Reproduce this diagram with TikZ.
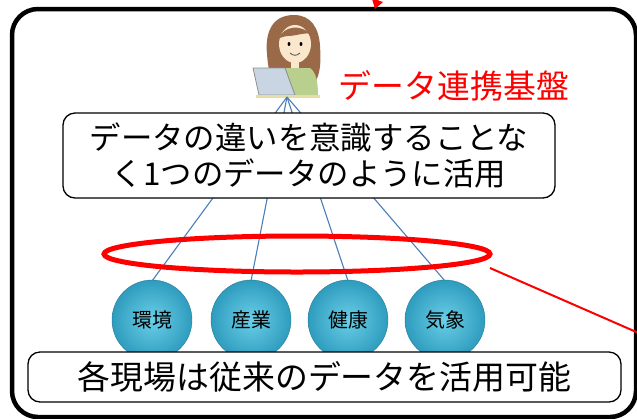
\documentclass[tikz,border=0pt]{standalone}
\usepackage{fontspec}
\setmainfont{Noto Sans CJK JP}
\usetikzlibrary{arrows.meta,shapes.geometric}
\definecolor{linkblue}{HTML}{4A7EBB}
\definecolor{ballin}{HTML}{6ACFE8}
\definecolor{ballout}{HTML}{2F9CBE}
\definecolor{hair}{HTML}{9A6A48}
\definecolor{skin}{HTML}{FBE7CC}
\definecolor{shirt}{HTML}{B9CF8E}
\definecolor{screen}{HTML}{C9D5E2}
\definecolor{desk}{HTML}{E6DCA6}
\tikzset{
  panel/.style={draw=black, line width=1.3bp, rounded corners=12bp, fill=white,
                align=center, inner sep=0pt},
  domainball/.style={circle, minimum size=80bp, inner sep=0pt, shading=radial,
                 inner color=ballin, outer color=ballout,
                 draw=ballout!80!black, line width=0.4bp,
                 font=\fontsize{20}{20}\selectfont},
  link/.style={draw=linkblue, line width=1.1bp},
  callout/.style={draw=red, line width=2bp},
}
\begin{document}
\begin{tikzpicture}[x=1bp,y=-1bp]
\useasboundingbox (0,0) rectangle (637,418);
\begin{scope}
\clip (0,0) rectangle (637,418);
% outer frame
\draw[line width=4.5bp, rounded corners=26bp] (12,9) rectangle (636,417);
% incoming arrow from above
\coordinate (arrowstart) at (384,-22);
\coordinate (arrowend) at (375,9);
\draw[red, line width=2bp, -{Triangle[width=11bp,length=9bp]}] (arrowstart) -- (arrowend);

% operator at the laptop
\coordinate (apex) at (287,97);
\fill[hair] (294,15) .. controls (271,15) and (265,34) .. (267,54)
  .. controls (268,68) and (270,80) .. (278,84) -- (314,84)
  .. controls (321,74) and (321,60) .. (320,46)
  .. controls (319,28) and (311,15) .. (294,15) -- cycle;
\fill[shirt] (282,68) -- (310,68) .. controls (316,72) and (318,82) .. (318,95) -- (282,95) -- cycle;
\fill[skin] (295,44) ellipse (16 and 19);
\fill[hair] (279,38) .. controls (284,26) and (300,24) .. (311,34)
  .. controls (305,32) and (296,36) .. (288,36) .. controls (284,36) and (281,38) .. (279,38) -- cycle;
\fill[black] (289,44) ellipse (1.4 and 2);
\fill[black] (301,44) ellipse (1.4 and 2);
\draw[black!70, line width=0.8bp] (290,53) .. controls (293,56) and (297,56) .. (300,53);
\fill[skin] (291,61) rectangle (299,68);
\filldraw[fill=screen, draw=black!45, line width=0.8bp] (253,68) -- (285,68) -- (295,95) -- (259,95) -- cycle;
\fill[desk] (256,95) rectangle (320,98);

% links from the domains to the platform
\coordinate (c1) at (152,281);
\coordinate (c2) at (251,281);
\coordinate (c3) at (348,281);
\coordinate (c4) at (445,281);
\foreach \c in {c1,c2,c3,c4} \draw[link] (apex) -- (\c);

% top panel
\node[panel, minimum width=492bp, minimum height=85bp,
      font=\fontsize{31.5}{37}\selectfont] (top) at (309,155.5)
  {データの違いを意識することな\\く1つのデータのように活用};

% platform label
\node[text=red, font=\fontsize{33}{33}\selectfont, inner sep=0pt] (platform) at (454,86) {データ連携基盤};

% red highlight around the links
\node[draw=red, line width=5bp, ellipse, minimum width=386bp, minimum height=36bp,
      inner sep=0pt] (ring) at (297,254) {};
\coordinate (ringtail) at (650,338);
\draw[callout] (490,268) -- (ringtail);

% domains
\node[domainball] (env) at (152,320) {環境};
\node[domainball] (ind) at (251,320) {産業};
\node[domainball] (hlt) at (348,320) {健康};
\node[domainball] (wth) at (445,320) {気象};

% bottom panel
\node[panel, minimum width=593bp, minimum height=50bp,
      font=\fontsize{33}{36}\selectfont] (bottom) at (324.5,377)
  {各現場は従来のデータを活用可能};
\end{scope}
\end{tikzpicture}
\end{document}
